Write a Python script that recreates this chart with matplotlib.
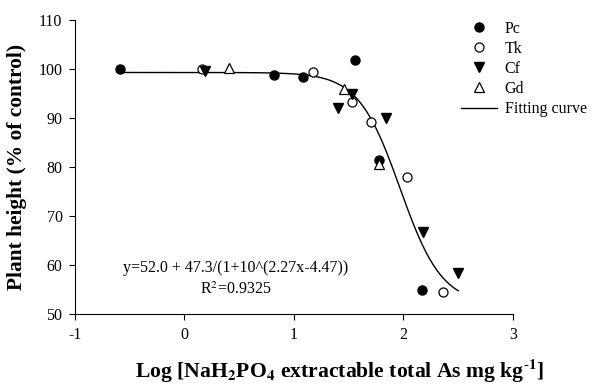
import numpy as np
import matplotlib.pyplot as plt

plt.rcParams['font.family'] = ['Liberation Serif', 'DejaVu Serif']
plt.rcParams['mathtext.fontset'] = 'stix'
plt.rcParams['axes.unicode_minus'] = False

pc_x = [-0.59, 0.82, 1.08, 1.56, 1.78, 2.17]
pc_y = [100.0, 98.8, 98.3, 101.9, 81.4, 54.9]
tk_x = [0.16, 1.17, 1.53, 1.70, 2.03, 2.36]
tk_y = [100.0, 99.4, 93.3, 89.2, 77.9, 54.5]
cf_x = [0.19, 1.40, 1.53, 1.84, 2.18, 2.50]
cf_y = [99.7, 92.0, 94.9, 90.0, 66.8, 58.3]
gd_x = [0.41, 1.46, 1.78]
gd_y = [100.2, 95.9, 80.6]

# fitted curve parameters (as printed on the chart)
y0, a, b, c = 52.0, 47.3, 2.27, 4.47
fit_range = (-0.59, 2.5)

fig = plt.figure(figsize=(5.93, 3.85), dpi=100)
ax = fig.add_axes([0.1265, 0.184, 0.7385, 0.764])

ax.plot(pc_x, pc_y, 'o', color='black', markersize=6.5, label='Pc', zorder=3)
ax.plot(tk_x, tk_y, 'o', mfc='white', mec='black', mew=0.9, markersize=6.5, label='Tk', zorder=3)
ax.plot(cf_x, cf_y, 'v', color='black', markersize=7, label='Cf', zorder=3)
ax.plot(gd_x, gd_y, '^', mfc='white', mec='black', mew=0.9, markersize=7, label='Gd', zorder=3)

xf = np.linspace(fit_range[0], fit_range[1], 200)
yf = y0 + a / (1 + 10 ** (b * xf - c))
ax.plot(xf, yf, '-', color='black', lw=1.0, label='Fitting curve', zorder=2)

ax.set_xlim(-1, 3)
ax.set_ylim(50, 110)
ax.set_xticks([-1, 0, 1, 2, 3])
ax.set_yticks([50, 60, 70, 80, 90, 100, 110])
ax.spines['top'].set_visible(False)
ax.spines['right'].set_visible(False)
ax.tick_params(direction='out', labelsize=11.5, length=4, pad=5)

ax.set_ylabel('Plant height (% of control)', fontsize=15.4, fontweight='bold', labelpad=8)
ax.set_xlabel(r'Log [NaH$_\mathbf{2}$PO$_\mathbf{4}$ extractable total As mg kg$^\mathbf{\text{-}1}$]',
              fontsize=15.6, fontweight='bold', labelpad=10, x=0.605)

ax.text(0.47, 59.4, 'y=52.0 + 47.3/(1+10^(2.27x-4.47))', ha='center', va='center', fontsize=11.5)
ax.text(0.47, 54.9, r'R$^2$=0.9325', ha='center', va='center', fontsize=11.5)

ax.legend(loc='upper left', bbox_to_anchor=(0.866, 1.02), frameon=False, fontsize=11.5,
          handlelength=2.3, labelspacing=0.26, handletextpad=0.45, borderaxespad=0)

plt.savefig('out.png', dpi=100)
